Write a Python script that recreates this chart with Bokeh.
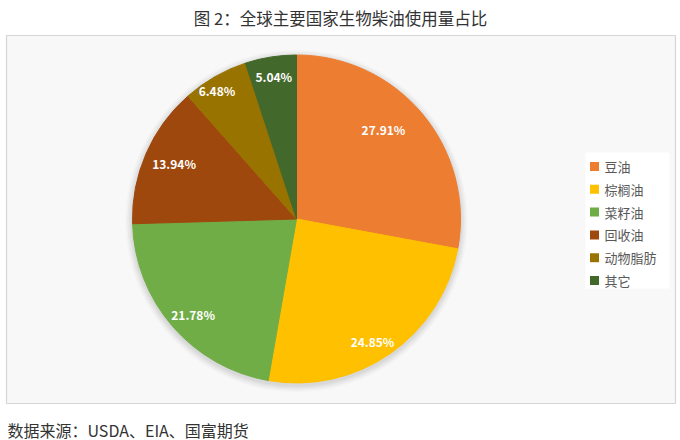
import numpy as np
from bokeh.plotting import figure
from bokeh.models import Range1d, ColumnDataSource
from bokeh.core.properties import value
from bokeh.embed import file_html
from bokeh.resources import INLINE

# ---- data ----
categories = ["豆油", "棕榈油", "菜籽油", "回收油", "动物脂肪", "其它"]
shares = [27.91, 24.85, 21.78, 13.94, 6.48, 5.04]
colors = ["#ED7D31", "#FFC000", "#70AD47", "#9E480E", "#997300", "#43682B"]
title_text = "图 2：全球主要国家生物柴油使用量占比"
source_text = "数据来源：USDA、EIA、国富期货"

FONT = "Noto Sans CJK SC"
W, H = 680, 440

def Y(py):  # page pixel y -> data y
    return H - py

p = figure(width=W, height=H, output_backend="svg", toolbar_location=None,
           x_range=Range1d(0, W), y_range=Range1d(0, H), min_border=0)
p.axis.visible = False
p.grid.visible = False
p.outline_line_color = None
p.background_fill_color = "white"
p.border_fill_color = "white"

# chart area box
p.quad(left=[6], right=[675], top=[Y(35)], bottom=[Y(403)],
       fill_color="#F8F8F8", line_color="#D6D6D6", line_width=1.2)

cx, cy, R = 296, Y(218.5), 164

# soft shadow
for i, a in enumerate([0.025, 0.03, 0.035, 0.04]):
    p.circle(x=[cx], y=[cy - 2], radius=R + 7 - i * 1.8, fill_color="black",
             fill_alpha=a, line_color=None)

frac = np.array(shares) / sum(shares)
cum = np.concatenate([[0], np.cumsum(frac)])
start = np.pi / 2 - cum[:-1] * 2 * np.pi
end = np.pi / 2 - cum[1:] * 2 * np.pi
src = ColumnDataSource(dict(start=start, end=end, color=colors, cat=categories))
p.wedge(x=cx, y=cy, radius=R, start_angle="start", end_angle="end",
        direction="clock", fill_color="color", line_color="color", source=src)

# labels
mid = (start + end) / 2
lr = np.array([0.76, 0.88, 0.86, 0.82, 0.92, 0.88]) * R
la = mid + np.radians([6, -3, 2, -1, 2, 0])
lx = cx + lr * np.cos(la)
ly = cy + lr * np.sin(la)
labels = [f"{s:.2f}%" for s in shares]
p.text(x=lx, y=ly, text=labels, text_color="white", text_font=value(FONT),
       text_font_style="bold", text_font_size="12px", text_align="center",
       text_baseline="middle")

# legend
p.quad(left=[585], right=[669], top=[Y(152)], bottom=[Y(288)],
       fill_color="white", line_color=None)
ry = Y(166) - np.arange(len(categories)) * 22.8
p.scatter(x=[594] * len(categories), y=ry, marker="square", size=9,
          fill_color=colors, line_color=None)
p.text(x=[604] * len(categories), y=ry, text=categories, text_color="#595959",
       text_font=value(FONT), text_font_size="13px", text_baseline="middle")

# title and source
p.text(x=[340], y=[Y(17)], text=[title_text], text_color="#333333",
       text_font=value(FONT), text_font_size="16.5px", text_align="center",
       text_baseline="middle")
p.text(x=[7], y=[Y(429)], text=[source_text], text_color="#333333",
       text_font=value(FONT), text_font_size="16px", text_align="left",
       text_baseline="middle")

open("out.html", "w").write(file_html(p, INLINE))
